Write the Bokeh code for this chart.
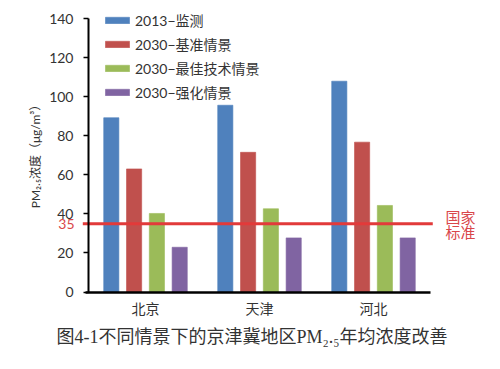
import math
from bokeh.plotting import figure
from bokeh.models import (ColumnDataSource, Range1d, FixedTicker, Legend,
                          LegendItem, Label)
from bokeh.transform import dodge
from bokeh.embed import file_html
from bokeh.resources import INLINE

# ---- data ----
cities = ["北京", "天津", "河北"]
series_names = ["2013−监测", "2030−基准情景", "2030−最佳技术情景", "2030−强化情景"]
v2013 = [89.2, 95.6, 107.9]
v_base = [63.0, 71.5, 76.7]
v_best = [40.2, 42.6, 44.3]
v_strong = [22.9, 27.7, 27.7]
standard = 35
y_ticks = [0, 20, 40, 60, 80, 100, 120, 140]
y_label = "PM₂.₅浓度（μg/m³）"
caption = "图4-1不同情景下的京津冀地区PM₂.₅年均浓度改善"

colors = ["#4F81BD", "#C0504D", "#9BBB59", "#8064A2"]
offsets = [-0.3, -0.1, 0.1, 0.3]
cols = ["s0", "s1", "s2", "s3"]

n = len(cities)
centers = [i + 0.5 for i in range(n)]
src = ColumnDataSource(dict(x=centers, city=cities, s0=v2013, s1=v_base, s2=v_best, s3=v_strong))

LAT = "Lato, 'Noto Sans CJK SC'"
CJK = "'Noto Sans CJK SC'"
RED = "#D9474A"

W, H = 492, 361
PX_X = 114.0      # pixels per category
PX_Y = 273.5 / 140
X0, Y0 = 88, 291.5   # page position of origin

p = figure(width=W, height=H,
           x_range=Range1d(-X0 / PX_X, (W - X0) / PX_X),
           y_range=Range1d(-(H - Y0) / PX_Y, Y0 / PX_Y),
           output_backend="svg", toolbar_location=None,
           min_border=0, min_border_left=0, min_border_right=0,
           min_border_top=0, min_border_bottom=0)
p.outline_line_color = None
p.xgrid.grid_line_color = None
p.ygrid.grid_line_color = None

renderers = []
for c, col, off in zip(cols, colors, offsets):
    r = p.vbar(x=dodge("x", off), top=c, width=0.133, source=src,
               fill_color=col, line_color=col, line_alpha=0.6)
    renderers.append(r)

# standard line
p.segment(x0=[-0.05], x1=[n + 0.02], y0=[standard], y1=[standard],
          line_color="#E23A3A", line_width=3)

# y axis
yax = p.yaxis[0]
yax.fixed_location = 0
yax.bounds = (0, 140)
yax.ticker = FixedTicker(ticks=y_ticks)
yax.axis_line_width = 2
yax.axis_line_color = "black"
yax.major_tick_line_color = "black"
yax.major_tick_line_width = 1.5
yax.major_tick_in = 0
yax.major_tick_out = 5
yax.minor_tick_line_color = None
yax.major_label_text_font = LAT
yax.major_label_text_font_size = "14px"
yax.major_label_text_color = "#333333"
yax.major_label_standoff = 10

# x axis
xax = p.xaxis[0]
xax.fixed_location = 0
xax.bounds = (-0.03, n)
xax.ticker = FixedTicker(ticks=centers)
xax.major_label_overrides = {c: name for c, name in zip(centers, cities)}
xax.axis_line_width = 2.5
xax.axis_line_color = "black"
xax.major_tick_line_color = None
xax.minor_tick_line_color = None
xax.major_tick_out = 0
xax.major_tick_in = 0
xax.major_label_text_font = CJK
xax.major_label_text_font_size = "14px"
xax.major_label_text_color = "#333333"
xax.major_label_standoff = 6

# y axis title
p.add_layout(Label(x=(35 - X0) / PX_X, y=(Y0 - 153) / PX_Y, text=y_label, angle=math.pi / 2,
                   text_align="center", text_baseline="middle", text_color="#333333",
                   text_font=LAT, text_font_size="12px"))

# red annotations
p.add_layout(Label(x=(74 - X0) / PX_X, y=standard, text="35", text_align="right", text_baseline="middle",
                   text_color=RED, text_font=LAT, text_font_size="14px"))
p.add_layout(Label(x=(445 - X0) / PX_X, y=38.9, text="国家", text_align="left", text_baseline="middle",
                   text_color=RED, text_font=CJK, text_font_size="15px"))
p.add_layout(Label(x=(445 - X0) / PX_X, y=31.2, text="标准", text_align="left", text_baseline="middle",
                   text_color=RED, text_font=CJK, text_font_size="15px"))

# legend
legend = Legend(items=[LegendItem(label=nm, renderers=[r]) for nm, r in zip(series_names, renderers)],
                location=(102, H - 102), orientation="vertical", margin=0, padding=0,
                glyph_width=30, glyph_height=8, label_height=18, spacing=4, label_standoff=3,
                label_text_font=LAT, label_text_font_size="14px", label_text_color="#333333",
                border_line_color=None, background_fill_alpha=0)
p.add_layout(legend)

# caption
p.add_layout(Label(x=(251.5 - X0) / PX_X, y=(Y0 - 336) / PX_Y, text=caption,
                   text_align="center", text_baseline="middle",
                   text_font="'Liberation Serif', 'Noto Sans CJK SC'", text_font_size="18px",
                   text_color="#333333"))

open("out.html", "w").write(file_html(p, INLINE))
